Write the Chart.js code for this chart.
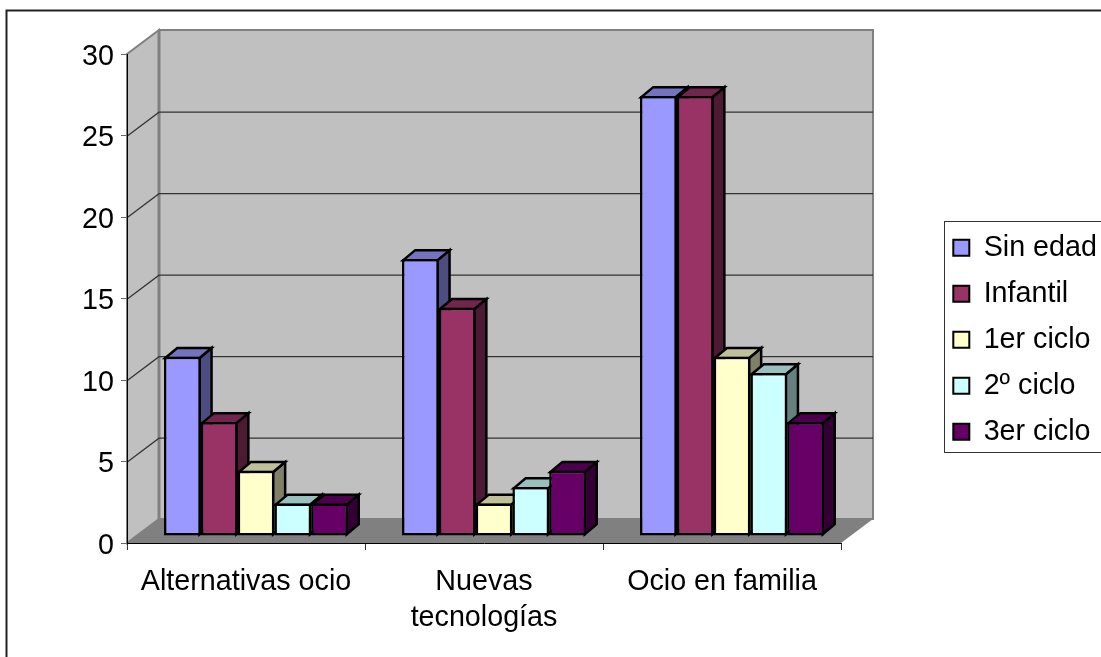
<!DOCTYPE html>
<html>
<head>
<meta charset="utf-8">
<style>html,body{margin:0;padding:0;background:#fff;overflow:hidden}canvas{display:block}</style>
<script src="https://cdn.jsdelivr.net/npm/chart.js@4"></script>
</head>
<body>
<canvas id="c" width="1101" height="657"></canvas>
<script>
const categories = [["Alternativas ocio"], ["Nuevas", "tecnologías"], ["Ocio en familia"]];
const seriesNames = ["Sin edad", "Infantil", "1er ciclo", "2º ciclo", "3er ciclo"];
const sinEdad = [11, 17, 27];
const infantil = [7, 14, 27];
const primerCiclo = [4, 2, 11];
const segundoCiclo = [2, 3, 10];
const tercerCiclo = [2, 4, 7];
const yTickStep = 5;
const yMax = 30;
const frontColors = ["#9999FF", "#993366", "#FFFFCC", "#CCFFFF", "#660066"];
const topColors = ["#7373BF", "#73264D", "#BFBF99", "#99BFBF", "#4D004D"];
const sideColors = ["#4D4D80", "#4D1A33", "#808066", "#668080", "#330033"];

const FONT = "'Liberation Sans', Arial, sans-serif";
const FONT_SIZE = 28.7;
const BAR_BORDER = 2.5;
const WALL = { dx: 32, dy: -24 };      // depth of the whole 3D box
const BAR_OFFSET = { dx: 10, dy: -7 }; // bar front plane relative to the axis plane
const BAR_DEPTH = { dx: 12, dy: -10 }; // depth of each bar

function drawBarFaces(ctx, meta, i) {
  const inset = BAR_BORDER / 2;
  meta.data.forEach(el => {
    const p = el.getProps(["x", "y", "base", "width"], true);
    const x1 = p.x - p.width / 2 + inset, x2 = p.x + p.width / 2 - inset;
    const yt = p.y + inset, yb = p.base - inset;
    const dx = BAR_DEPTH.dx, dy = BAR_DEPTH.dy;
    ctx.fillStyle = sideColors[i];
    ctx.beginPath();
    ctx.moveTo(x2, yt); ctx.lineTo(x2 + dx, yt + dy); ctx.lineTo(x2 + dx, yb + dy); ctx.lineTo(x2, yb);
    ctx.closePath(); ctx.fill(); ctx.stroke();
    ctx.fillStyle = topColors[i];
    ctx.beginPath();
    ctx.moveTo(x1, yt); ctx.lineTo(x1 + dx, yt + dy); ctx.lineTo(x2 + dx, yt + dy); ctx.lineTo(x2, yt);
    ctx.closePath(); ctx.fill(); ctx.stroke();
  });
}

const wallsPlugin = {
  id: "walls3d",
  beforeDraw(chart) {
    const { ctx, chartArea: a, scales: { y } } = chart;
    // chart outer frame
    ctx.save();
    ctx.fillStyle = "#fff";
    ctx.fillRect(0, 0, chart.width, chart.height);
    ctx.strokeStyle = "#222";
    ctx.lineWidth = 2;
    ctx.beginPath();
    ctx.moveTo(6.5, chart.height + 2);
    ctx.lineTo(6.5, 10.5);
    ctx.lineTo(chart.width + 2, 10.5);
    ctx.stroke();

    const l = a.left, r = a.right, t = a.top, b = a.bottom;
    const dx = WALL.dx, dy = WALL.dy;
    ctx.fillStyle = "#C0C0C0";
    ctx.strokeStyle = "#808080";
    ctx.lineWidth = 2;
    // side wall
    ctx.beginPath();
    ctx.moveTo(l, t); ctx.lineTo(l + dx, t + dy); ctx.lineTo(l + dx, b + dy); ctx.lineTo(l, b);
    ctx.closePath(); ctx.fill(); ctx.stroke();
    // back wall
    ctx.beginPath();
    ctx.rect(l + dx, t + dy, r - l, b - t);
    ctx.fill(); ctx.stroke();
    // heavier corner where the side wall meets the back wall
    ctx.lineWidth = 3;
    ctx.beginPath();
    ctx.moveTo(l + dx, t + dy); ctx.lineTo(l + dx, b + dy);
    ctx.stroke();
    // floor
    ctx.fillStyle = "#808080";
    ctx.beginPath();
    ctx.moveTo(l, b); ctx.lineTo(l + dx, b + dy); ctx.lineTo(r + dx, b + dy); ctx.lineTo(r, b);
    ctx.closePath(); ctx.fill();
    // grid lines on side and back walls
    ctx.strokeStyle = "#333";
    ctx.lineWidth = 1.2;
    y.ticks.forEach(tk => {
      if (tk.value === 0 || tk.value === yMax) return;
      const py = y.getPixelForValue(tk.value) + 0.7;
      ctx.beginPath();
      ctx.moveTo(l, py);
      ctx.lineTo(l + dx, py + dy);
      ctx.lineTo(r + dx, py + dy);
      ctx.stroke();
    });
    ctx.restore();

    // legend frame and placement
    const lg = chart.legend;
    ctx.save();
    ctx.fillStyle = "#fff";
    ctx.strokeStyle = "#333";
    ctx.lineWidth = 1;
    ctx.fillRect(944.5, 221.5, 170, 231);
    ctx.strokeRect(944.5, 221.5, 170, 231);
    ctx.restore();
    const w = 180, h = 250;
    lg.left = 936;
    lg.top = 216;
    lg.right = lg.left + w;
    lg.bottom = lg.top + h;
    lg.width = w;
    lg.height = h;
  },
  // Bars are painted left to right in afterDatasetsDraw so nearer faces overlap correctly.
  beforeDatasetDraw() {
    return false;
  },
  afterDatasetsDraw(chart) {
    const { ctx } = chart;
    ctx.save();
    ctx.translate(BAR_OFFSET.dx, BAR_OFFSET.dy);
    chart.getSortedVisibleDatasetMetas().forEach(meta => {
      ctx.save();
      ctx.lineWidth = BAR_BORDER;
      ctx.lineJoin = "miter";
      ctx.strokeStyle = "#000";
      drawBarFaces(ctx, meta, meta.index);
      ctx.restore();
      meta.controller.draw();
    });
    ctx.restore();
  }
};

const seriesValues = [sinEdad, infantil, primerCiclo, segundoCiclo, tercerCiclo];

new Chart(document.getElementById("c"), {
  type: "bar",
  plugins: [wallsPlugin],
  data: {
    labels: categories,
    datasets: seriesValues.map((vals, i) => ({
      label: seriesNames[i],
      data: vals,
      backgroundColor: frontColors[i],
      borderColor: "#000",
      borderWidth: BAR_BORDER,
      borderSkipped: false
    }))
  },
  options: {
    responsive: false,
    animation: false,
    events: [],
    categoryPercentage: 0.773,
    barPercentage: 1,
    layout: { padding: { left: 0, top: 54, right: 260, bottom: 0 } },
    font: { family: FONT },
    scales: {
      x: {
        afterFit(s) { s.height = 114; },
        grid: { drawOnChartArea: false, drawTicks: true, tickLength: 7, color: "#333", lineWidth: 1, offset: true },
        border: { color: "#000", width: 1 },
        ticks: {
          color: "#000", autoSkip: false, maxRotation: 0, padding: 14,
          font: { family: FONT, size: FONT_SIZE, lineHeight: 1.26 }
        }
      },
      y: {
        min: 0, max: yMax,
        afterFit(s) { s.width = 127; },
        grid: { drawOnChartArea: false, drawTicks: true, tickLength: 6, color: "#666", lineWidth: 1 },
        border: { color: "#000", width: 1 },
        ticks: {
          stepSize: yTickStep, color: "#000", padding: 7, labelOffset: 3,
          font: { family: FONT, size: FONT_SIZE }
        }
      }
    },
    plugins: {
      title: { display: false },
      tooltip: { enabled: false },
      legend: {
        display: true,
        position: "chartArea",
        align: "start",
        labels: {
          color: "#000",
          boxWidth: 16,
          boxHeight: 16,
          padding: 17.3,
          font: { family: FONT, size: FONT_SIZE },
          generateLabels(chart) {
            return chart.data.datasets.map((d, i) => ({
              text: d.label, fillStyle: d.backgroundColor, strokeStyle: "#000",
              lineWidth: 2, fontColor: "#000", datasetIndex: i, hidden: false
            }));
          }
        }
      }
    }
  }
});
</script>
</body>
</html>
